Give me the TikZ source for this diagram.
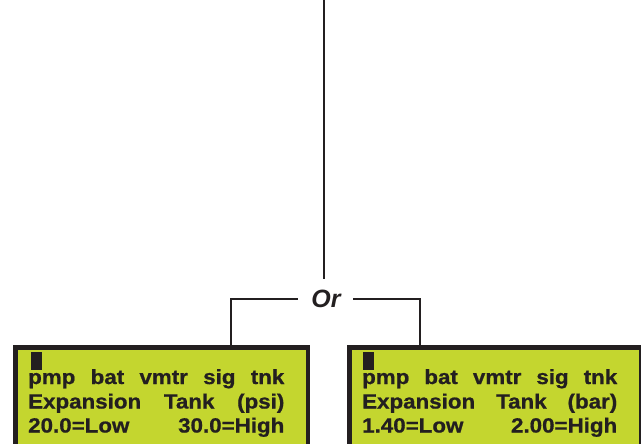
\documentclass[tikz,border=0pt]{standalone}
\usepackage{graphicx}
\usepackage{fontspec}
\setmainfont{Liberation Sans}
\newfontfamily\lcdfont{Liberation Sans Bold}[FakeBold=0.8]
\definecolor{lcd}{RGB}{196,214,47}
\definecolor{ink}{RGB}{35,31,32}
\newcommand{\lcdline}[2]{\scalebox{1.09}[1]{\makebox[#1][s]{#2}}}
\begin{document}
\begin{tikzpicture}[x=1pt,y=-1pt,
  lcdbox/.style={draw=ink,fill=lcd,line width=4.5pt,rectangle,inner sep=0pt,anchor=north west},
  lcdtext/.style={text=ink,inner sep=0pt,anchor=base west,font=\fontsize{20.5}{23}\lcdfont},
  cursorbox/.style={fill=ink,draw=none,inner sep=0pt,minimum width=11pt,minimum height=18pt,anchor=north west},
  wire/.style={draw=ink,line width=2pt}]
\useasboundingbox (0,0) rectangle (641,444);
\begin{scope}
\clip (0,0) rectangle (641,444);
% boxes
\node[lcdbox,minimum width=292.5pt,minimum height=101pt] (lbox) at (13.25,345.25) {};
\node[lcdbox,minimum width=291.5pt,minimum height=101pt] (rbox) at (347.25,345.25) {};
\end{scope}
% cursors
\node[cursorbox] (lcur) at (30.5,351.5) {};
\node[cursorbox] (rcur) at (363,351.5) {};
% left texts
\node[lcdtext] (l1) at (28,384) {\lcdline{235pt}{pmp bat vmtr sig tnk}};
\node[lcdtext] (l2) at (28,408.5) {\lcdline{235pt}{Expansion Tank (psi)}};
\node[lcdtext] (l3) at (28,432.5) {\lcdline{235pt}{20.0=Low\hfill30.0=High}};
% right texts
\node[lcdtext] (r1) at (362,384) {\lcdline{234pt}{pmp bat vmtr sig tnk}};
\node[lcdtext] (r2) at (362,408.5) {\lcdline{234pt}{Expansion Tank (bar)}};
\node[lcdtext] (r3) at (362,432.5) {\lcdline{234pt}{1.40=Low\hfill2.00=High}};
% Or
\node[text=ink,inner sep=0pt,minimum width=55pt,minimum height=18pt,font=\fontsize{25}{28}\selectfont\bfseries\itshape] (or) at (325.5,299) {\hspace*{1pt}Or};
\coordinate (top) at (324,0);
\coordinate (ljoin) at (231,299);
\coordinate (rjoin) at (420,299);
\draw[wire] (top) -- (324,279);
\draw[wire] (or.west) -- (ljoin) -- (ljoin |- lbox.north);
\draw[wire] (or.east) -- (rjoin) -- (rjoin |- rbox.north);
\end{tikzpicture}
\end{document}
